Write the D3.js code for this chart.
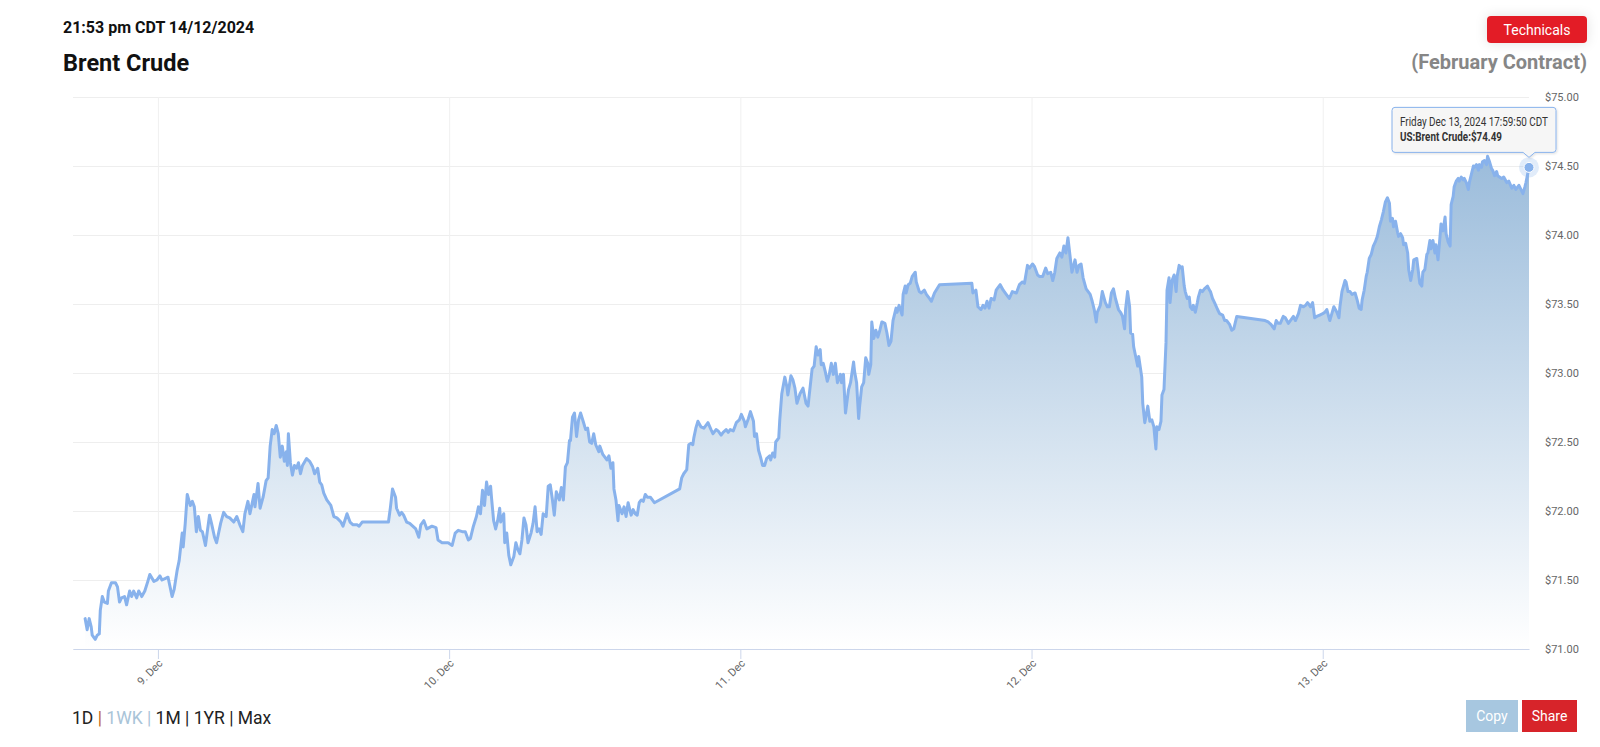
<!DOCTYPE html>
<html><head><meta charset="utf-8">
<script src="https://cdn.jsdelivr.net/npm/d3@7"></script>
<style>
html,body{margin:0;padding:0;background:#fff;}
svg{display:block;font-family:Roboto,"Helvetica Neue",Arial,sans-serif;}
</style></head><body>
<svg id="chart" width="1600" height="747"></svg>
<script>
// ---------------- data ----------------
const titleText = "Brent Crude";
const stampText = "21:53 pm CDT 14/12/2024";
const contractText = "(February Contract)";
const techButton = "Technicals";
const rangeButtons = ["1D", "1WK", "1M", "1YR", "Max"];
const actionButtons = ["Copy", "Share"];
const yTicks = [71, 71.5, 72, 72.5, 73, 73.5, 74, 74.5, 75];
const yDomain = [71, 75];
const xDomain = ["2024-12-08 17:00", "2024-12-13 17:00"];
const xTicks = ["2024-12-09 00:00", "2024-12-10 00:00", "2024-12-11 00:00", "2024-12-12 00:00", "2024-12-13 00:00"];
const tooltipLines = ["Friday Dec 13, 2024 17:59:50 CDT", "US:Brent Crude:$74.49"];

const times = [
"12-08 18:00","12-08 18:10","12-08 18:20","12-08 18:30","12-08 18:35","12-08 18:50","12-08 19:00","12-08 19:10","12-08 19:15","12-08 19:25",
"12-08 19:35","12-08 19:50","12-08 19:55","12-08 20:10","12-08 20:20","12-08 20:30","12-08 20:40","12-08 20:50","12-08 21:00","12-08 21:15",
"12-08 21:25","12-08 21:40","12-08 21:50","12-08 22:00","12-08 22:15","12-08 22:25","12-08 22:40","12-08 22:55","12-08 23:10","12-08 23:20",
"12-08 23:40","12-08 23:55",
"12-09 00:10","12-09 00:20","12-09 00:35","12-09 00:50","12-09 01:10","12-09 01:20","12-09 01:35","12-09 01:45","12-09 02:00","12-09 02:05",
"12-09 02:15","12-09 02:25","12-09 02:40","12-09 02:50","12-09 03:00","12-09 03:10","12-09 03:20","12-09 03:30","12-09 03:40","12-09 03:55",
"12-09 04:15","12-09 04:25","12-09 04:40","12-09 04:50","12-09 05:10","12-09 05:25","12-09 05:40","12-09 05:55","12-09 06:15","12-09 06:30",
"12-09 06:45","12-09 07:00","12-09 07:10","12-09 07:25","12-09 07:35","12-09 07:55","12-09 08:00","12-09 08:15","12-09 08:25","12-09 08:40",
"12-09 08:55","12-09 09:05","12-09 09:15","12-09 09:25","12-09 09:35","12-09 09:45","12-09 09:55","12-09 10:05","12-09 10:15","12-09 10:25",
"12-09 10:35","12-09 10:40","12-09 10:45","12-09 10:55","12-09 11:05","12-09 11:15","12-09 11:25","12-09 11:35","12-09 11:45","12-09 11:55",
"12-09 12:15","12-09 12:30","12-09 12:45","12-09 12:55","12-09 13:10","12-09 13:20","12-09 13:30","12-09 13:40","12-09 13:55","12-09 14:15",
"12-09 14:30","12-09 14:45","12-09 15:05","12-09 15:15","12-09 15:35","12-09 15:50","12-09 16:05","12-09 16:25","12-09 16:35","12-09 16:50",
"12-09 17:00","12-09 19:00","12-09 19:10","12-09 19:20","12-09 19:35","12-09 19:40","12-09 19:55","12-09 20:05","12-09 20:15","12-09 20:30",
"12-09 20:45","12-09 21:00","12-09 21:15","12-09 21:30","12-09 21:40","12-09 21:55","12-09 22:10","12-09 22:35","12-09 22:55","12-09 23:05",
"12-09 23:25","12-09 23:40","12-09 23:55",
"12-10 00:15","12-10 00:30","12-10 00:45","12-10 01:05","12-10 01:20","12-10 01:35","12-10 01:45","12-10 02:00","12-10 02:15","12-10 02:25",
"12-10 02:35","12-10 02:45","12-10 02:55","12-10 03:05","12-10 03:15","12-10 03:25","12-10 03:30","12-10 03:40","12-10 03:50","12-10 04:00",
"12-10 04:10","12-10 04:15","12-10 04:30","12-10 04:35","12-10 04:45","12-10 04:55","12-10 05:05","12-10 05:20","12-10 05:30","12-10 05:40",
"12-10 05:50","12-10 06:00","12-10 06:10","12-10 06:20","12-10 06:30","12-10 06:45","12-10 06:55","12-10 07:05","12-10 07:15","12-10 07:25",
"12-10 07:35","12-10 07:45","12-10 08:00","12-10 08:10","12-10 08:20","12-10 08:30","12-10 08:40","12-10 08:50","12-10 09:05","12-10 09:15",
"12-10 09:25","12-10 09:35","12-10 09:45","12-10 09:55","12-10 10:00","12-10 10:10","12-10 10:20","12-10 10:30","12-10 10:40","12-10 10:50",
"12-10 11:05","12-10 11:15","12-10 11:25","12-10 11:35","12-10 11:45","12-10 11:55","12-10 12:05","12-10 12:20","12-10 12:25","12-10 12:40",
"12-10 12:50","12-10 13:00","12-10 13:10","12-10 13:20","12-10 13:30","12-10 13:35","12-10 13:45","12-10 13:55","12-10 14:00","12-10 14:15",
"12-10 14:25","12-10 14:35","12-10 14:45","12-10 15:00","12-10 15:10","12-10 15:20","12-10 15:30","12-10 15:40","12-10 15:50","12-10 16:00",
"12-10 16:10","12-10 16:20","12-10 16:35","12-10 16:55","12-10 19:00","12-10 19:10","12-10 19:20","12-10 19:35","12-10 19:45","12-10 19:55",
"12-10 20:05","12-10 20:10","12-10 20:20","12-10 20:30","12-10 20:45","12-10 21:00","12-10 21:20","12-10 21:35","12-10 21:45","12-10 22:00",
"12-10 22:10","12-10 22:25","12-10 22:35","12-10 22:50","12-10 23:00","12-10 23:10","12-10 23:25","12-10 23:40","12-10 23:55",
"12-11 00:05","12-11 00:20","12-11 00:25","12-11 00:40","12-11 00:50","12-11 01:05","12-11 01:10","12-11 01:20","12-11 01:30","12-11 01:40",
"12-11 01:50","12-11 02:00","12-11 02:10","12-11 02:25","12-11 02:30","12-11 02:40","12-11 02:50","12-11 02:55","12-11 03:10","12-11 03:15",
"12-11 03:25","12-11 03:40","12-11 03:50","12-11 03:55","12-11 04:10","12-11 04:20","12-11 04:30","12-11 04:40","12-11 04:55","12-11 05:10",
"12-11 05:25","12-11 05:35","12-11 05:40","12-11 05:55","12-11 06:05","12-11 06:15","12-11 06:25","12-11 06:35","12-11 06:40","12-11 06:50",
"12-11 07:00","12-11 07:10","12-11 07:20","12-11 07:30","12-11 07:40","12-11 07:50","12-11 08:00","12-11 08:15","12-11 08:20","12-11 08:30",
"12-11 08:40","12-11 08:55","12-11 09:05","12-11 09:20","12-11 09:25","12-11 09:35","12-11 09:45","12-11 09:50","12-11 10:00","12-11 10:10",
"12-11 10:20","12-11 10:30","12-11 10:35","12-11 10:45","12-11 10:50","12-11 11:00","12-11 11:10","12-11 11:20","12-11 11:30","12-11 11:40",
"12-11 11:55","12-11 12:05","12-11 12:15","12-11 12:25","12-11 12:35","12-11 12:50","12-11 12:55","12-11 13:05","12-11 13:20","12-11 13:25",
"12-11 13:35","12-11 13:40","12-11 13:50","12-11 14:00","12-11 14:10","12-11 14:25","12-11 14:30","12-11 14:45","12-11 14:55","12-11 15:10",
"12-11 15:20","12-11 15:35","12-11 15:45","12-11 16:00","12-11 16:25","12-11 19:05","12-11 19:10","12-11 19:25","12-11 19:35","12-11 19:50",
"12-11 20:00","12-11 20:10","12-11 20:20","12-11 20:30","12-11 20:40","12-11 20:55","12-11 21:05","12-11 21:25","12-11 21:40","12-11 21:55",
"12-11 22:10","12-11 22:25","12-11 22:45","12-11 23:00","12-11 23:15","12-11 23:25","12-11 23:40","12-11 23:50",
"12-12 00:05","12-12 00:15","12-12 00:30","12-12 00:40","12-12 00:55","12-12 01:10","12-12 01:20","12-12 01:35","12-12 01:45","12-12 01:55",
"12-12 02:05","12-12 02:20","12-12 02:30","12-12 02:40","12-12 02:50","12-12 03:00","12-12 03:15","12-12 03:20","12-12 03:35","12-12 03:45",
"12-12 03:55","12-12 04:05","12-12 04:15","12-12 04:30","12-12 04:40","12-12 04:50","12-12 05:00","12-12 05:10","12-12 05:20","12-12 05:25",
"12-12 05:40","12-12 05:50","12-12 06:05","12-12 06:15","12-12 06:25","12-12 06:35","12-12 06:45","12-12 06:55","12-12 07:10","12-12 07:20",
"12-12 07:30","12-12 07:40","12-12 07:45","12-12 07:55","12-12 08:05","12-12 08:10","12-12 08:20","12-12 08:25","12-12 08:35","12-12 08:45",
"12-12 08:50","12-12 09:05","12-12 09:10","12-12 09:20","12-12 09:30","12-12 09:35","12-12 09:45","12-12 09:55","12-12 10:05","12-12 10:15",
"12-12 10:20","12-12 10:30","12-12 10:40","12-12 10:45","12-12 10:55","12-12 11:05","12-12 11:10","12-12 11:20","12-12 11:25","12-12 11:35",
"12-12 11:45","12-12 11:55","12-12 12:00","12-12 12:10","12-12 12:20","12-12 12:25","12-12 12:35","12-12 12:40","12-12 12:50","12-12 13:00",
"12-12 13:05","12-12 13:15","12-12 13:20","12-12 13:30","12-12 13:40","12-12 13:45","12-12 13:55","12-12 14:05","12-12 14:15","12-12 14:30",
"12-12 14:40","12-12 14:45","12-12 14:55","12-12 15:05","12-12 15:20","12-12 15:30","12-12 15:45","12-12 15:55","12-12 16:05","12-12 16:20",
"12-12 16:30","12-12 16:40","12-12 16:55","12-12 19:15","12-12 19:30","12-12 19:45","12-12 20:00","12-12 20:10","12-12 20:20","12-12 20:30",
"12-12 20:45","12-12 20:55","12-12 21:10","12-12 21:20","12-12 21:35","12-12 21:45","12-12 22:00","12-12 22:10","12-12 22:25","12-12 22:35",
"12-12 22:45","12-12 23:00","12-12 23:10","12-12 23:20","12-12 23:30","12-12 23:45",
"12-13 00:00","12-13 00:10","12-13 00:20","12-13 00:35","12-13 00:45","12-13 00:55","12-13 01:10","12-13 01:20","12-13 01:25","12-13 01:35",
"12-13 01:50","12-13 01:55","12-13 02:05","12-13 02:15","12-13 02:25","12-13 02:40","12-13 02:50","12-13 03:00","12-13 03:10","12-13 03:15",
"12-13 03:25","12-13 03:35","12-13 03:40","12-13 03:50","12-13 04:00","12-13 04:10","12-13 04:20","12-13 04:30","12-13 04:40","12-13 04:50",
"12-13 05:00","12-13 05:10","12-13 05:20","12-13 05:30","12-13 05:35","12-13 05:45","12-13 05:50","12-13 06:00","12-13 06:10","12-13 06:15",
"12-13 06:25","12-13 06:35","12-13 06:40","12-13 06:50","12-13 07:00","12-13 07:05","12-13 07:15","12-13 07:25","12-13 07:30","12-13 07:45",
"12-13 07:50","12-13 08:00","12-13 08:10","12-13 08:15","12-13 08:25","12-13 08:35","12-13 08:40","12-13 08:50","12-13 08:55","12-13 09:05",
"12-13 09:15","12-13 09:20","12-13 09:30","12-13 09:40","12-13 09:45","12-13 09:55","12-13 10:05","12-13 10:10","12-13 10:20","12-13 10:30",
"12-13 10:35","12-13 10:45","12-13 10:50","12-13 11:00","12-13 11:10","12-13 11:15","12-13 11:25","12-13 11:35","12-13 11:40","12-13 11:50",
"12-13 12:00","12-13 12:05","12-13 12:15","12-13 12:25","12-13 12:30","12-13 12:40","12-13 12:50","12-13 12:55","12-13 13:05","12-13 13:10",
"12-13 13:20","12-13 13:30","12-13 13:35","12-13 13:45","12-13 13:55","12-13 14:00","12-13 14:10","12-13 14:20","12-13 14:25","12-13 14:45",
"12-13 14:55","12-13 15:10","12-13 15:20","12-13 15:35","12-13 15:45","12-13 15:55","12-13 16:10","12-13 16:20","12-13 16:30","12-13 16:40",
"12-13 16:45","12-13 17:00"
];

const prices = [
71.22,71.14,71.22,71.16,71.10,71.07,71.10,71.11,71.28,71.38,
71.34,71.33,71.42,71.48,71.48,71.48,71.45,71.34,71.37,71.38,
71.32,71.42,71.38,71.42,71.37,71.42,71.38,71.42,71.49,71.54,
71.49,71.50,
71.53,71.50,71.51,71.52,71.38,71.43,71.57,71.64,71.84,71.74,
71.91,72.12,72.04,72.07,72.03,71.85,71.96,71.86,71.85,71.75,
71.97,71.91,71.81,71.77,71.91,71.99,71.96,71.95,71.92,71.96,
71.90,71.85,71.98,72.07,71.98,72.12,72.03,72.20,72.02,72.10,
72.22,72.24,72.47,72.59,72.56,72.62,72.56,72.39,72.47,72.36,
72.43,72.33,72.56,72.35,72.26,72.33,72.31,72.35,72.27,72.33,
72.38,72.36,72.32,72.27,72.31,72.21,72.19,72.13,72.08,72.04,
71.96,71.95,71.92,71.89,71.98,71.92,71.90,71.90,71.89,71.92,
71.92,71.92,72.03,72.16,72.10,72.02,71.97,71.99,71.97,71.92,
71.91,71.89,71.87,71.81,71.90,71.93,71.87,71.89,71.88,71.79,
71.77,71.77,71.77,
71.75,71.84,71.86,71.85,71.85,71.79,71.80,71.89,71.96,72.03,
71.98,72.15,72.04,72.21,72.12,72.18,72.09,71.93,71.87,71.93,
72.02,71.92,71.98,71.77,71.84,71.68,71.61,71.67,71.77,71.72,
71.69,71.79,71.95,71.90,71.77,71.84,71.91,72.03,71.85,71.87,
71.83,71.98,71.96,72.18,72.19,72.09,71.97,72.14,72.08,72.17,
72.08,72.32,72.35,72.51,72.51,72.68,72.71,72.54,72.66,72.71,
72.64,72.59,72.60,72.50,72.49,72.56,72.48,72.43,72.47,72.41,
72.39,72.37,72.40,72.31,72.35,72.16,72.08,71.93,72.04,71.98,
72.03,71.96,72.06,71.97,72.01,71.98,71.97,72.06,72.08,72.07,
72.12,72.10,72.10,72.06,72.16,72.24,72.27,72.30,72.48,72.49,
72.48,72.53,72.60,72.65,72.61,72.60,72.64,72.59,72.56,72.59,
72.58,72.55,72.57,72.59,72.57,72.59,72.58,72.64,72.66,
72.70,72.65,72.61,72.67,72.72,72.65,72.54,72.56,72.44,72.39,
72.33,72.33,72.38,72.40,72.37,72.42,72.39,72.50,72.53,72.66,
72.85,72.97,72.90,72.84,72.98,72.95,72.89,72.78,72.85,72.89,
72.78,72.76,72.83,73.03,73.05,73.19,73.13,73.17,73.06,73.07,
73.01,72.94,72.99,73.07,72.99,73.07,72.93,72.99,72.93,72.99,
72.71,72.88,72.93,73.08,73.01,72.93,72.67,72.76,72.90,72.93,
73.11,73.07,72.99,73.06,73.37,73.25,73.31,73.26,73.31,73.37,
73.36,73.29,73.20,73.23,73.38,73.47,73.44,73.49,73.42,73.57,
73.63,73.58,73.64,73.65,73.70,73.73,73.66,73.59,73.58,73.60,
73.57,73.54,73.52,73.58,73.64,73.65,73.58,73.60,73.48,73.46,
73.49,73.47,73.52,73.47,73.54,73.53,73.60,73.64,73.60,73.57,
73.54,73.59,73.58,73.64,73.66,73.65,73.78,73.76,
73.79,73.77,73.71,73.70,73.70,73.76,73.72,73.73,73.67,73.73,
73.83,73.87,73.84,73.92,73.87,73.98,73.79,73.73,73.82,73.73,
73.78,73.79,73.69,73.61,73.59,73.57,73.52,73.46,73.37,73.44,
73.49,73.59,73.51,73.48,73.48,73.58,73.61,73.54,73.46,73.44,
73.41,73.32,73.46,73.59,73.48,73.29,73.28,73.19,73.12,73.05,
73.12,72.97,72.78,72.64,72.72,72.76,72.65,72.66,72.61,72.45,
72.61,72.59,72.65,72.84,72.88,73.22,73.60,73.69,73.51,73.67,
73.71,73.59,73.70,73.78,73.76,73.77,73.63,73.59,73.54,73.55,
73.48,73.46,73.49,73.44,73.51,73.55,73.60,73.59,73.61,73.63,
73.60,73.59,73.54,73.51,73.46,73.43,73.42,73.38,73.38,73.35,
73.31,73.32,73.41,73.38,73.37,73.35,73.32,73.38,73.36,73.36,
73.41,73.40,73.36,73.38,73.41,73.38,73.43,73.49,73.48,73.49,
73.51,73.48,73.51,73.40,73.41,73.42,
73.43,73.44,73.46,73.38,73.43,73.48,73.44,73.40,73.48,73.59,
73.67,73.66,73.59,73.59,73.57,73.58,73.53,73.47,73.46,73.53,
73.60,73.70,73.73,73.83,73.86,73.92,73.95,73.99,74.06,74.11,
74.17,74.24,74.27,74.23,74.10,74.12,74.06,74.10,74.02,73.99,
74.01,73.98,73.93,73.94,73.87,73.75,73.67,73.75,73.82,73.83,
73.77,73.65,73.63,73.73,73.75,73.86,73.87,73.96,73.90,73.96,
73.87,73.93,73.82,73.99,74.08,74.03,74.13,74.01,73.95,73.92,
74.22,74.28,74.35,74.39,74.41,74.39,74.42,74.40,74.41,74.38,
74.33,74.38,74.44,74.50,74.49,74.51,74.47,74.51,74.49,74.53,
74.54,74.51,74.57,74.53,74.48,74.47,74.43,74.46,74.43,74.41,
74.42,74.38,74.39,74.34,74.36,74.33,74.36,74.33,74.30,74.35,
74.38,74.49
];

// ---------------- drawing ----------------
const svg = d3.select("#chart");
const plot = {left: 73, right: 1529, top: 97, bottom: 649};
const seriesColor = "#88b2ec";

const parseT = d3.utcParse("%Y-%m-%d %H:%M");
const data = times.map((t, i) => ({t: parseT("2024-" + t), v: prices[i]}));

const x = d3.scaleUtc().domain(xDomain.map(parseT)).range([plot.left, plot.right]);
const y = d3.scaleLinear().domain(yDomain).range([plot.bottom, plot.top]);

const defs = svg.append("defs");
const grad = defs.append("linearGradient").attr("id", "areaGrad")
  .attr("x1", 0).attr("y1", 0).attr("x2", 0).attr("y2", 1);
grad.append("stop").attr("offset", 0).attr("stop-color", "#9bbcdb");
grad.append("stop").attr("offset", 1).attr("stop-color", "#ffffff");

const shadow = defs.append("filter").attr("id", "softShadow")
  .attr("x", "-30%").attr("y", "-60%").attr("width", "160%").attr("height", "220%");
shadow.append("feDropShadow").attr("dx", 0).attr("dy", 0).attr("stdDeviation", 6)
  .attr("flood-color", "#000").attr("flood-opacity", 0.12);
const tipShadow = defs.append("filter").attr("id", "tipShadow")
  .attr("x", "-10%").attr("y", "-20%").attr("width", "120%").attr("height", "150%");
tipShadow.append("feDropShadow").attr("dx", 1).attr("dy", 1).attr("stdDeviation", 1.2)
  .attr("flood-color", "#000").attr("flood-opacity", 0.12);

// header
svg.append("text").attr("x", 63).attr("y", 33).attr("font-size", 16).attr("font-weight", 700)
  .attr("fill", "#111").text(stampText);
svg.append("text").attr("x", 63).attr("y", 71).attr("font-size", 23.5).attr("font-weight", 700)
  .attr("fill", "#111").text(titleText);
svg.append("text").attr("x", 1587).attr("y", 69).attr("font-size", 20).attr("font-weight", 700)
  .attr("text-anchor", "end").attr("fill", "#868686").text(contractText);
const tb = svg.append("g").attr("transform", "translate(1487,16)");
tb.append("rect").attr("width", 100).attr("height", 27).attr("rx", 4).attr("fill", "#e31e26")
  .attr("filter", "url(#softShadow)");
tb.append("text").attr("x", 50).attr("y", 18.5).attr("text-anchor", "middle").attr("font-size", 14)
  .attr("fill", "#fff").text(techButton);

// grid lines (horizontal)
svg.append("g").attr("class", "ygrid")
  .attr("transform", `translate(${plot.left},0)`)
  .call(d3.axisLeft(y).tickValues(yTicks).tickSize(-(plot.right - plot.left)).tickSizeOuter(0).tickFormat(""))
  .call(g => g.select(".domain").remove())
  .call(g => g.selectAll("line").attr("stroke", "#eeeeee").attr("stroke-width", 1));

// vertical grid lines
svg.append("g").attr("class", "xgrid")
  .attr("transform", `translate(0,${plot.bottom})`)
  .call(d3.axisBottom(x).tickValues(xTicks.map(parseT)).tickSize(-(plot.bottom - plot.top)).tickSizeOuter(0).tickFormat(""))
  .call(g => g.select(".domain").remove())
  .call(g => g.selectAll("line").attr("stroke", "#f0f0f0").attr("stroke-width", 1));

// area + line
const area = d3.area().x(d => x(d.t)).y0(y(yDomain[0])).y1(d => y(d.v));
const line = d3.line().x(d => x(d.t)).y(d => y(d.v));
svg.append("path").datum(data).attr("d", area).attr("fill", "url(#areaGrad)");
svg.append("path").datum(data).attr("d", line).attr("fill", "none")
  .attr("stroke", seriesColor).attr("stroke-width", 3)
  .attr("stroke-linejoin", "round").attr("stroke-linecap", "round");

// x axis
const xAxis = svg.append("g").attr("transform", `translate(0,${plot.bottom})`)
  .call(d3.axisBottom(x).tickValues(xTicks.map(parseT)).tickSize(10).tickSizeOuter(0)
    .tickFormat(d3.utcFormat("%-d. %b")));
xAxis.select(".domain").attr("stroke", "#ccd6eb");
xAxis.selectAll(".tick line").attr("stroke", "#ccd6eb");
xAxis.selectAll(".tick text")
  .attr("x", 0).attr("y", 0).attr("dy", null)
  .attr("transform", "translate(5,15) rotate(-45)")
  .attr("text-anchor", "end").attr("font-size", 11).attr("fill", "#666")
  .attr("font-family", "Roboto, Arial, sans-serif");

// y axis labels
const yAxis = svg.append("g").attr("transform", `translate(${plot.right},0)`)
  .call(d3.axisRight(y).tickValues(yTicks).tickSize(0).tickSizeOuter(0).tickPadding(16)
    .tickFormat(d => "$" + d3.format(".2f")(d)));
yAxis.select(".domain").remove();
yAxis.selectAll("text").attr("font-size", 11).attr("fill", "#666")
  .attr("font-family", "Roboto, Arial, sans-serif");

// last point marker + halo
const last = data[data.length - 1];
const px = x(last.t), py = y(last.v);
svg.append("circle").attr("cx", px).attr("cy", py).attr("r", 10)
  .attr("fill", seriesColor).attr("fill-opacity", 0.25);
svg.append("circle").attr("cx", px).attr("cy", py).attr("r", 5)
  .attr("fill", seriesColor).attr("stroke", "#fff").attr("stroke-width", 1);

// tooltip
const bx0 = px - 137, bx1 = px + 27, by0 = py - 60, by1 = py - 15, r = 3;
const ax = px, ay = py - 10;
const tipPath = `M${bx0 + r},${by0} L${bx1 - r},${by0} Q${bx1},${by0} ${bx1},${by0 + r} L${bx1},${by1 - r} Q${bx1},${by1} ${bx1 - r},${by1} L${ax + 6},${by1} L${ax},${ay} L${ax - 6},${by1} L${bx0 + r},${by1} Q${bx0},${by1} ${bx0},${by1 - r} L${bx0},${by0 + r} Q${bx0},${by0} ${bx0 + r},${by0} Z`;
svg.append("path").attr("d", tipPath).attr("fill", "rgba(247,247,247,0.9)")
  .attr("stroke", seriesColor).attr("stroke-width", 1).attr("filter", "url(#tipShadow)");
svg.append("text").attr("x", bx0 + 8).attr("y", by0 + 19).attr("font-size", 12).attr("fill", "#333")
  .attr("textLength", 148).attr("lengthAdjust", "spacingAndGlyphs")
  .text(tooltipLines[0]);
svg.append("text").attr("x", bx0 + 8).attr("y", by0 + 34).attr("font-size", 12).attr("font-weight", 700)
  .attr("textLength", 102).attr("lengthAdjust", "spacingAndGlyphs")
  .attr("fill", "#333").text(tooltipLines[1]);

// range selector
const rangeColors = ["#222", "#a9c4d8", "#222", "#222", "#222"];
const sepColors = ["#c0651d", "#a9c4d8", "#222", "#222"];
const rt = svg.append("text").attr("x", 72).attr("y", 724).attr("font-size", 17.5);
rangeButtons.forEach((b, i) => {
  rt.append("tspan").attr("fill", rangeColors[i]).text(b);
  if (i < rangeButtons.length - 1) rt.append("tspan").attr("fill", sepColors[i]).text(" | ");
});

// copy / share buttons
const btnSpec = [{x: 1466, w: 52, fill: "#a7c7e0"}, {x: 1522, w: 55, fill: "#d7242a"}];
actionButtons.forEach((b, i) => {
  const g = svg.append("g").attr("transform", `translate(${btnSpec[i].x},700)`);
  g.append("rect").attr("width", btnSpec[i].w).attr("height", 32).attr("fill", btnSpec[i].fill);
  g.append("text").attr("x", btnSpec[i].w / 2).attr("y", 21).attr("text-anchor", "middle")
    .attr("font-size", 14).attr("fill", "#fff").text(b);
});
</script>
</body></html>
